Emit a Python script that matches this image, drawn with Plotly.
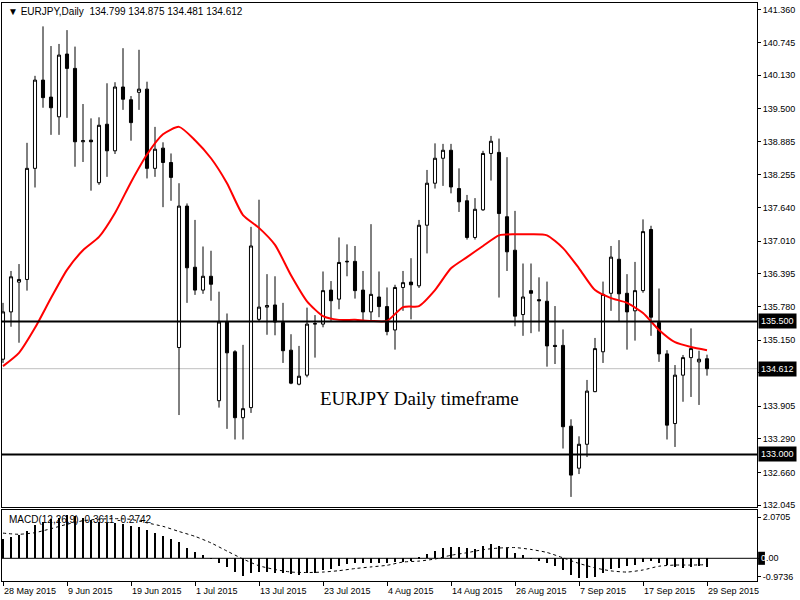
import pandas as pd
import plotly.graph_objects as go

# EURJPY daily bars, 28 May 2015 - 29 Sep 2015 (trading days only)
dates = pd.bdate_range("2015-05-28", "2015-09-29").strftime("%Y-%m-%d").tolist()

opens = [134.79, 135.68, 136.24, 136.29, 138.38, 140.04, 139.72, 139.35, 140.53, 140.26,
         138.88, 138.91, 138.11, 139.21, 138.71, 139.91, 139.67, 139.81, 139.87, 138.38,
         138.76, 138.49, 135.01, 137.67, 136.52, 136.09, 136.35, 134.01, 135.49, 134.93,
         133.69, 133.88, 135.54, 135.77, 135.81, 135.48, 134.96, 134.32, 134.49, 135.45,
         135.45, 136.09, 135.92, 136.62, 136.63, 136.09, 135.68, 135.96, 135.78, 135.34,
         136.14, 136.24, 136.17, 137.31, 138.10, 138.57, 138.72, 138.00, 137.77, 137.08,
         137.60, 138.66, 138.68, 137.47, 136.84, 135.63, 136.08, 135.91, 135.88, 135.05,
         135.05, 133.53, 132.74, 133.19, 134.18, 134.93, 136.03, 136.67, 136.03, 135.70,
         136.08, 137.23, 135.48, 134.89, 133.58, 134.49, 134.82, 134.74, 134.799]
highs = [135.85, 136.45, 136.58, 138.86, 140.12, 141.05, 140.68, 140.72, 140.98, 140.67,
         139.59, 139.32, 139.34, 139.98, 140.00, 140.64, 139.74, 140.61, 140.01, 139.16,
         138.87, 138.66, 138.10, 137.72, 137.41, 136.91, 136.83, 136.06, 135.65, 134.96,
         135.06, 137.28, 137.79, 136.39, 136.35, 135.85, 135.26, 135.04, 135.76, 135.62,
         136.44, 136.26, 137.08, 136.95, 136.92, 136.45, 137.33, 136.44, 136.14, 136.19,
         136.45, 136.69, 137.41, 138.35, 138.85, 138.84, 138.84, 138.38, 137.88, 137.82,
         138.71, 138.99, 138.94, 138.59, 137.58, 136.59, 136.59, 136.33, 136.25, 135.79,
         135.35, 133.66, 133.34, 134.40, 135.19, 136.25, 136.92, 137.03, 136.39, 136.62,
         137.42, 137.30, 136.12, 134.96, 134.68, 134.87, 135.37, 134.95, 134.875]
lows = [134.72, 135.40, 135.10, 136.08, 138.02, 139.52, 139.01, 139.01, 139.33, 138.41,
        138.50, 137.96, 138.07, 138.22, 138.65, 139.48, 138.90, 139.48, 138.19, 138.22,
        137.65, 137.77, 133.74, 135.85, 136.00, 136.02, 135.89, 133.88, 133.48, 133.28,
        133.28, 133.78, 135.49, 135.25, 135.24, 134.72, 134.32, 134.30, 134.45, 134.82,
        135.39, 135.51, 135.73, 136.35, 135.93, 135.51, 135.51, 135.58, 135.24, 134.97,
        135.70, 135.54, 136.13, 136.78, 138.00, 138.05, 137.91, 137.56, 137.04, 137.04,
        137.58, 138.15, 135.95, 136.45, 135.41, 135.23, 135.28, 135.31, 134.65, 134.70,
        133.11, 132.20, 132.63, 132.95, 134.17, 134.72, 135.70, 135.51, 134.97, 135.14,
        136.04, 135.23, 134.74, 133.28, 133.14, 133.99, 134.08, 133.93, 134.481]
closes = [135.68, 136.34, 136.29, 138.38, 140.04, 139.71, 139.52, 140.51, 140.26, 138.88,
          138.90, 138.88, 139.19, 138.71, 139.91, 139.68, 139.24, 139.87, 138.38, 138.74,
          138.49, 138.21, 137.67, 136.51, 136.09, 136.35, 136.20, 135.49, 134.91, 133.69,
          133.86, 136.92, 135.77, 135.80, 135.49, 134.95, 134.34, 134.47, 135.45, 135.46,
          136.08, 135.89, 136.61, 136.63, 136.08, 135.68, 136.01, 135.78, 135.31, 136.14,
          136.23, 136.19, 137.31, 138.10, 138.57, 138.72, 138.03, 137.75, 137.08, 137.61,
          138.66, 138.89, 137.53, 136.81, 135.60, 135.96, 136.03, 135.89, 135.04, 135.03,
          133.52, 132.61, 133.19, 134.19, 134.99, 136.01, 136.71, 136.02, 135.68, 136.08,
          137.19, 135.58, 134.89, 133.55, 134.49, 134.82, 134.99, 134.79, 134.612]

# red moving average, read every second bar
ma_dates = dates[::2]
ma_values = [134.66, 134.91, 135.38, 135.94, 136.47, 136.84, 137.09, 137.54, 138.12, 138.64,
             139.02, 139.16, 138.91, 138.57, 138.10, 137.50, 137.26, 136.94, 136.37, 135.88,
             135.60, 135.53, 135.53, 135.51, 135.51, 135.77, 135.79, 136.09, 136.50, 136.71,
             136.92, 137.12, 137.14, 137.14, 137.12, 136.88, 136.50, 136.09, 135.94, 135.85,
             135.66, 135.34, 135.11, 135.02, 134.96]

# MACD(12,26,9): histogram = main line, dotted = signal
macd_main = [0.84, 0.93, 0.99, 1.16, 1.42, 1.56, 1.67, 1.74, 1.86, 1.82,
             1.74, 1.64, 1.56, 1.53, 1.50, 1.46, 1.39, 1.34, 1.22, 1.10,
             0.96, 0.82, 0.70, 0.46, 0.27, 0.13, 0.01, -0.19, -0.37, -0.59,
             -0.76, -0.64, -0.59, -0.59, -0.61, -0.64, -0.67, -0.70, -0.64, -0.61,
             -0.50, -0.47, -0.33, -0.23, -0.21, -0.21, -0.21, -0.21, -0.21, -0.16,
             -0.14, -0.11, 0.02, 0.17, 0.31, 0.46, 0.50, 0.50, 0.46, 0.41,
             0.53, 0.60, 0.53, 0.46, 0.24, 0.13, -0.01, -0.11, -0.21, -0.33,
             -0.50, -0.73, -0.84, -0.84, -0.79, -0.61, -0.47, -0.40, -0.33, -0.30,
             -0.14, -0.11, -0.21, -0.30, -0.36, -0.40, -0.36, -0.33, -0.3611]
macd_signal = [1.08, 1.03, 1.10, 1.27, 1.46, 1.61, 1.68, 1.70, 1.67, 1.52,
               1.37, 1.15, 0.94, 0.66, 0.31, -0.03, -0.32, -0.48, -0.59, -0.61,
               -0.59, -0.53, -0.44, -0.37, -0.30, -0.16, -0.12, -0.03, 0.13, 0.24,
               0.37, 0.44, 0.46, 0.38, 0.25, 0.02, -0.22, -0.41, -0.54, -0.59,
               -0.50, -0.34, -0.29, -0.29, -0.2742]

price_ticks = [141.360, 140.745, 140.130, 139.500, 138.885, 138.255, 137.640, 137.010,
               136.395, 135.780, 135.150, 134.535, 133.905, 133.290, 132.660, 132.045]
level_lines = [135.500, 133.000]
last_price = 134.612

label_dates = dates[::8]
label_text = ["28 May 2015", "9 Jun 2015", "19 Jun 2015", "1 Jul 2015", "13 Jul 2015",
              "23 Jul 2015", "4 Aug 2015", "14 Aug 2015", "26 Aug 2015", "7 Sep 2015",
              "17 Sep 2015", "29 Sep 2015"]

FONT = "Liberation Sans, DejaVu Sans, sans-serif"
FS = 9

fig = go.Figure()

fig.add_trace(go.Candlestick(
    x=dates, open=opens, high=highs, low=lows, close=closes,
    increasing=dict(line=dict(color="black", width=1), fillcolor="white"),
    decreasing=dict(line=dict(color="black", width=1), fillcolor="black"),
    whiskerwidth=0, showlegend=False, hoverinfo="skip",
    xaxis="x", yaxis="y"
))

fig.add_trace(go.Scatter(
    x=ma_dates, y=ma_values, mode="lines",
    line=dict(color="#ff0000", width=2, shape="spline", smoothing=0.6),
    showlegend=False, hoverinfo="skip", xaxis="x", yaxis="y"
))

fig.add_trace(go.Bar(
    x=dates, y=macd_main, marker=dict(color="black", line=dict(width=0)),
    width=0.3, showlegend=False, hoverinfo="skip", xaxis="x2", yaxis="y2"
))

fig.add_trace(go.Scatter(
    x=ma_dates, y=macd_signal, mode="lines",
    line=dict(color="black", width=1, dash="dot", shape="spline", smoothing=0.6),
    showlegend=False, hoverinfo="skip", xaxis="x2", yaxis="y2"
))

x_range = [-0.125, 94.25]
frame = dict(showline=True, mirror=True, linecolor="black", linewidth=1,
             showgrid=False, zeroline=False)

shapes = []
for lvl in level_lines:
    shapes.append(dict(type="line", xref="paper", x0=0, x1=1, yref="y", y0=lvl, y1=lvl,
                       line=dict(color="black", width=2), layer="above"))
shapes.append(dict(type="line", xref="paper", x0=0, x1=1, yref="y", y0=last_price, y1=last_price,
                   line=dict(color="#c0c0c0", width=1), layer="below"))
shapes.append(dict(type="line", xref="paper", x0=0, x1=1, yref="y2", y0=0, y1=0,
                   line=dict(color="black", width=1), layer="below"))
# black marker behind the zero label of the MACD scale
shapes.append(dict(type="rect", xref="paper", x0=1.0015, x1=1.0105, yref="y2", y0=-0.28, y1=0.28,
                   fillcolor="black", line=dict(width=0), layer="above"))

annotations = []
annotations.append(dict(
    xref="paper", yref="paper", x=0, y=1, xanchor="left", yanchor="middle",
    xshift=4, yshift=-8, showarrow=False,
    text="\u25BC EURJPY,Daily\u00a0\u00a0134.799 134.875 134.481 134.612",
    font=dict(family=FONT, size=FS + 1, color="black")
))
annotations.append(dict(
    xref="paper", yref="paper", x=0, y=0.1228, xanchor="left", yanchor="middle",
    xshift=5, yshift=-9, showarrow=False,
    text="MACD(12,26,9) -0.3611 -0.2742",
    font=dict(family=FONT, size=FS + 1, color="black")
))
annotations.append(dict(
    xref="paper", yref="paper", x=0.5536, y=0.3166, xanchor="center", yanchor="middle",
    showarrow=False, text="EURJPY Daily timeframe",
    font=dict(family="Liberation Serif, serif", size=19, color="black")
))
for lvl in level_lines + [last_price]:
    annotations.append(dict(
        xref="paper", yref="y", x=1, y=lvl, xanchor="left", yanchor="middle",
        xshift=1, showarrow=False, text=f"{lvl:.3f}",
        bgcolor="black", borderpad=2,
        font=dict(family=FONT, size=FS, color="white")
    ))
annotations.append(dict(
    xref="paper", yref="y2", x=1, y=0, xanchor="left", yanchor="middle",
    xshift=2, showarrow=False,
    text="<span style='color:white'>0</span>.00",
    font=dict(family=FONT, size=FS, color="black")
))
for d, t in zip(label_dates, label_text):
    annotations.append(dict(
        xref="x2", yref="paper", x=d, y=0, xanchor="left", yanchor="middle",
        xshift=-1, yshift=-10, showarrow=False, text=t,
        font=dict(family=FONT, size=FS, color="black")
    ))

fig.update_layout(
    width=800, height=600,
    margin=dict(l=2, r=43, t=3, b=19),
    paper_bgcolor="white", plot_bgcolor="white",
    showlegend=False,
    boxgap=0.45,
    xaxis=dict(domain=[0, 1], anchor="y", type="category", range=x_range,
               showticklabels=False, ticks="", rangeslider=dict(visible=False), **frame),
    xaxis2=dict(domain=[0, 1], anchor="y2", type="category", range=x_range,
                tickmode="array", tickvals=label_dates, ticktext=[""] * len(label_dates),
                ticks="outside", ticklen=4, tickcolor="black", **frame),
    yaxis=dict(domain=[0.128, 1], anchor="x", range=[132.01, 141.49], side="right",
               tickmode="array", tickvals=price_ticks,
               ticktext=[f"{v:.3f}" for v in price_ticks],
               ticks="outside", ticklen=3, tickcolor="black",
               tickfont=dict(family=FONT, size=FS, color="black"), **frame),
    yaxis2=dict(domain=[0, 0.1228], anchor="x2", range=[-0.9736, 2.0705], side="right",
                tickmode="array", tickvals=[1.77, 0, -0.80],
                ticktext=["2.0705", "", "-0.9736"],
                ticks="outside", ticklen=3, tickcolor="black",
                tickfont=dict(family=FONT, size=FS, color="black"), **frame),
    bargap=0,
    shapes=shapes,
    annotations=annotations,
)

fig.write_html("out.html", config={"displayModeBar": False},
               post_script="document.body.style.margin='0';")
